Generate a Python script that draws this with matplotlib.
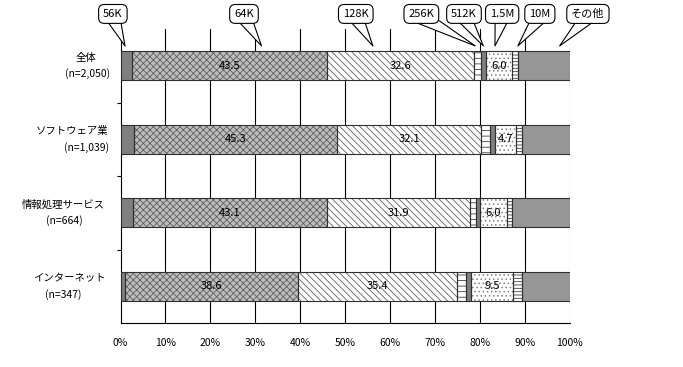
import numpy as np
import matplotlib
matplotlib.use('Agg')
import matplotlib.pyplot as plt

plt.rcParams['font.family'] = ['Noto Sans CJK JP', 'DejaVu Sans']
plt.rcParams['hatch.linewidth'] = 0.6

# データ (%)
categories = ['全体', 'ソフトウェア業', '情報処理サービス', 'インターネット']
sample_n = ['(n=2,050)', '(n=1,039)', '(n=664)', '(n=347)']
speeds = ['56K', '64K', '128K', '256K', '512K', '1.5M', '10M', 'その他']
v56k = [2.6, 3.0, 2.8, 1.0]
v64k = [43.5, 45.3, 43.1, 38.6]
v128k = [32.6, 32.1, 31.9, 35.4]
v256k = [1.6, 1.9, 1.3, 1.9]
v512k = [1.0, 1.0, 0.9, 1.1]
v1_5m = [6.0, 4.7, 6.0, 9.5]
v10m = [1.3, 1.4, 1.3, 1.9]
v_other = [11.4, 10.6, 12.7, 10.6]
xticks = list(range(0, 101, 10))

series = [v56k, v64k, v128k, v256k, v512k, v1_5m, v10m, v_other]
labeled = {'64K', '128K', '1.5M'}

# 塗りつぶしスタイル (face, hatch, hatch color)
styles = [
    ('#7f7f7f', None, '#7f7f7f'),
    ('#bdbdbd', 'xxxxx', '#606060'),
    ('white', '\\\\\\\\\\', '#606060'),
    ('white', '---', '#404040'),
    ('#7f7f7f', None, '#7f7f7f'),
    ('white', '....', '#808080'),
    ('white', '-----', '#404040'),
    ('#969696', None, '#969696'),
]

fig = plt.figure(figsize=(6.83, 3.67), dpi=100)
ax = fig.add_axes([120.5 / 683, 44 / 367, 449 / 683, 294 / 367])

y = np.arange(len(categories))
left = np.zeros(len(categories))
for name, vals, (fc, hatch, hc) in zip(speeds, series, styles):
    vals = np.array(vals)
    ax.barh(y, vals, left=left, height=0.4, color=fc, hatch=hatch,
            edgecolor=hc, linewidth=0, zorder=3)
    ax.barh(y, vals, left=left, height=0.4, color='none',
            edgecolor='#303030', linewidth=0.8, zorder=4)
    if name in labeled:
        for yi, (l, v) in enumerate(zip(left, vals)):
            ax.text(l + v / 2, yi, f'{v:.1f}', ha='center', va='center',
                    fontsize=8, zorder=5)
    left += vals

ax.set_xlim(0, 100)
ax.set_ylim(len(categories) - 0.5, -0.5)

# グリッド
for xv in xticks[1:-1]:
    ax.axvline(xv, color='black', linewidth=0.8, zorder=1)
ax.axvline(100, color='#8c8c8c', linewidth=0.8, zorder=1)

ax.spines['top'].set_visible(False)
ax.spines['right'].set_visible(False)
ax.spines['left'].set_linewidth(0.8)
ax.spines['bottom'].set_linewidth(0.8)

ax.set_xticks(xticks)
ax.set_xticklabels([f'{t}%' for t in xticks], fontsize=7.5)
ax.tick_params(axis='x', length=0, pad=11)
ax.set_yticks([0.5, 1.5, 2.5])
ax.set_yticklabels([])
ax.tick_params(axis='y', length=3, direction='out', width=0.8)

# カテゴリラベル (行ごとに中央揃え)
line_x = [(86.5, 88), (72.5, 86.5), (63.5, 64), (69.5, 63)]
fig.canvas.draw()
for yi, (cat, n) in enumerate(zip(categories, sample_n)):
    x1, x2 = line_x[yi]
    _, ypx = ax.transData.transform((0, yi))
    fig.text(x1 / 683, (ypx + 8) / 367, cat, ha='center', va='center', fontsize=7.5)
    fig.text(x2 / 683, (ypx - 8) / 367, n, ha='center', va='center', fontsize=7.5)

# 吹き出し
box_x = [-1.7, 27.5, 52.4, 67.0, 76.5, 85.0, 93.4, 104.1]
tip_x = [1.0, 31.4, 56.2, 79.0, 80.8, 83.4, 88.5, 97.8]
for name, bx, tx in zip(speeds, box_x, tip_x):
    ax.annotate(name, xy=(tx, -0.27), xytext=(bx, -0.705),
                ha='center', va='center', fontsize=8, annotation_clip=False,
                bbox=dict(boxstyle='round,pad=0.4,rounding_size=0.5',
                          facecolor='white', edgecolor='black', linewidth=0.8),
                arrowprops=dict(arrowstyle='wedge,tail_width=1.3,shrink_factor=0.5',
                                facecolor='white', edgecolor='black',
                                linewidth=0.8, shrinkA=0, shrinkB=0,
                                patchA=None, relpos=(0.5, 0.2)),
                zorder=6)

fig.savefig('out.png', dpi=100)
